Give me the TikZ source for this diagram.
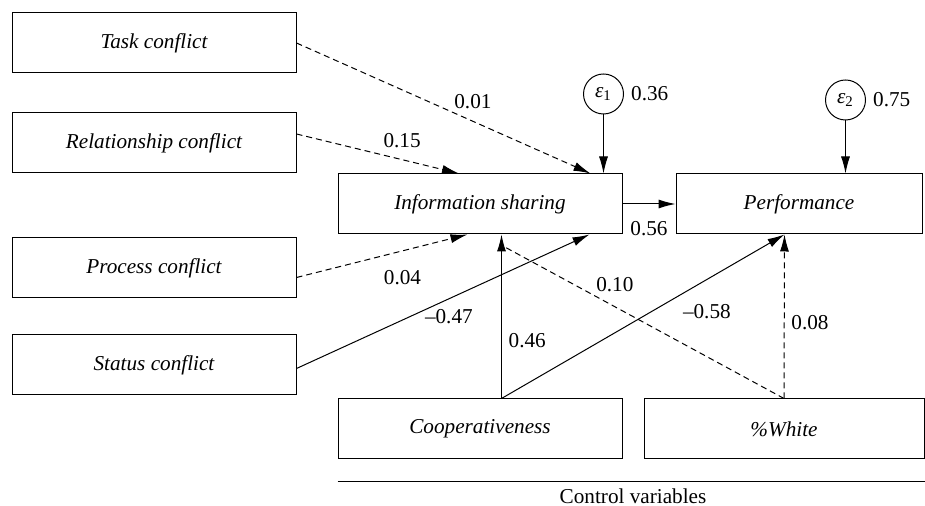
\documentclass[tikz,border=0pt]{standalone}
\usepackage{fontspec}
\setmainfont{Liberation Serif}
\usetikzlibrary{positioning,arrows.meta}

\newcommand\figfont{\fontsize{10.6}{12.7}\selectfont}

\begin{document}
\begin{tikzpicture}[->,>={Latex[length=8.5pt,width=4.5pt]}, line width=0.5pt,
  varbox/.style={rectangle, draw, minimum width=142pt, minimum height=30pt, inner sep=0pt, font=\figfont\itshape},
  errnode/.style={circle, draw, minimum size=20pt, inner sep=0pt},
  weak/.style={dash pattern=on 3pt off 2pt},
  every node/.style={font=\figfont}]

  \useasboundingbox (0,0) rectangle (462.5pt,-253pt);

  \node[varbox] (task) at (77pt,-21.5pt) {Task conflict};
  \node[varbox] (rel) [below = 19.5pt of task] {Relationship conflict};
  \node[varbox] (proc) [below = 32pt of rel] {Process conflict};
  \node[varbox] (stat) [below = 18pt of proc] {Status conflict};
  \node[varbox] (info) [below right = 0pt and 20.5pt of rel] {Information sharing};
  \node[varbox, minimum width=123pt] (perf) [right = 26.5pt of info] {Performance};
  \node[varbox] (coop) [below = 82pt of info] {Cooperativeness};
  \node[varbox, minimum width=140pt] (white) [right = 10.5pt of coop] {\%White};
  \node[errnode, label=right:0.36] (e1) [above = 29.5pt of info.north east, xshift=-9.5pt] {\textit{ε}\textsubscript{1}};
  \node[errnode, label=right:0.75] (e2) [above = 26.5pt of perf.north east, xshift=-38.5pt] {\textit{ε}\textsubscript{2}};
  \coordinate[below = 11pt of coop.south west] (cvl);
  \coordinate (cvr) at ([xshift=2pt]cvl -| white.east);

  \path
    (task.east) edge[weak] node [above=2.5pt, pos=0.6] {0.01} ([xshift=-16pt]info.north east)
    ([yshift=4.5pt]rel.east) edge[weak] node [above=2.5pt, pos=0.65] {0.15} ([xshift=-10.5pt]info.north)
    ([yshift=-4.75pt]proc.east) edge[weak] node [below=6pt, pos=0.62] {0.04} ([xshift=-6.25pt]info.south)
    ([yshift=-1.75pt]stat.east) edge node [below=1.5pt, pos=0.52] {--0.47} ([xshift=-16.5pt]info.south east)
    ([xshift=10.75pt]coop.north) edge node [right, pos=0.35] {0.46} ([xshift=10.75pt]info.south)
    ([xshift=10.75pt]coop.north) edge node [below right, pos=0.616] {--0.58} ([xshift=-7.25pt]perf.south)
    (white.north) edge[weak, -] node [above=4pt, pos=0.6] {0.10} ([xshift=11pt, yshift=-5.5pt]info.south)
    (white.north) edge[weak] node [right, pos=0.46] {0.08} ([xshift=-7.25pt]perf.south)
    (info.east) edge node [below=5pt] {0.56} (perf.west)
    (e1) edge (e1 |- info.north)
    (e2) edge (e2 |- perf.north)
  ;

  \draw[-] (cvl) -- node [below] {Control variables} (cvr);
\end{tikzpicture}
\end{document}
